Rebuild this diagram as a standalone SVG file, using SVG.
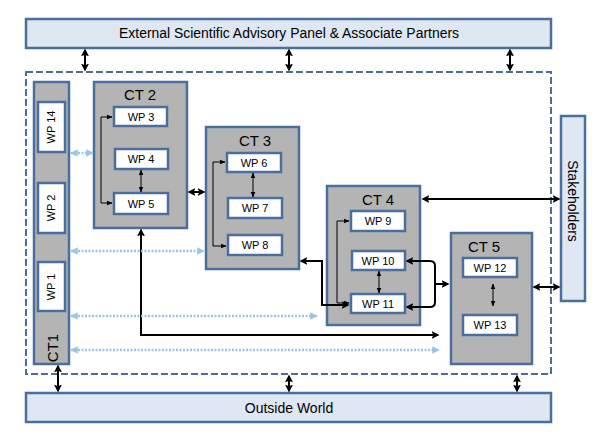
<svg xmlns="http://www.w3.org/2000/svg" width="592" height="442" viewBox="0 0 592 442">
<style>
.band{fill:#dee7f2;stroke:#4a6e9e;stroke-width:2.5}
.ct{fill:#b4b4b4;stroke:#4a6e9e;stroke-width:2.5}
.wp{fill:#ffffff;stroke:#4a6e9e;stroke-width:2.5}
.t{font-family:"Liberation Sans",Arial,sans-serif;fill:#000;text-anchor:middle}
.wpt{font-size:11px}
.ctt{font-size:15px}
.thick{fill:none;stroke:#000;stroke-width:2;marker-start:url(#ah);marker-end:url(#ah)}
.thin{fill:none;stroke:#000;stroke-width:1;marker-start:url(#as);marker-end:url(#as)}
.dot{fill:none;stroke:#9dc3e6;stroke-width:2.5;stroke-dasharray:2 1.5;marker-start:url(#ab);marker-end:url(#ab)}
</style>
<defs>
<marker id="ah" viewBox="0 0 10 10" refX="8" refY="5" markerWidth="4" markerHeight="4" orient="auto-start-reverse"><path d="M0,0 L10,5 L0,10 L2,5 z" fill="#000"/></marker>
<marker id="as" viewBox="0 0 10 10" refX="9" refY="5" markerWidth="6" markerHeight="6" orient="auto-start-reverse"><path d="M0,1 L10,5 L0,9 z" fill="#000"/></marker>
<marker id="ab" viewBox="0 0 10 10" refX="9" refY="5" markerWidth="3" markerHeight="3" orient="auto-start-reverse"><path d="M0,0 L10,5 L0,10 z" fill="#9dc3e6"/></marker>
</defs>
<rect x="0" y="0" width="592" height="442" fill="#fff"/>

<g id="external">
<rect class="band" x="26" y="19" width="525" height="29"/>
<text class="t" x="289" y="38" font-size="14" textLength="340" lengthAdjust="spacingAndGlyphs">External Scientific Advisory Panel &amp; Associate Partners</text>
</g>

<g id="frame">
<rect x="26" y="72" width="525" height="302" fill="none" stroke="#4a6e9e" stroke-width="2" stroke-dasharray="7 3"/>
</g>

<g id="outside">
<rect class="band" x="26" y="393" width="525" height="29"/>
<text class="t" x="289" y="413" font-size="14">Outside World</text>
</g>

<g id="stakeholders">
<rect class="band" x="561" y="116" width="24" height="185"/>
<text class="t" font-size="14" transform="translate(568,201) rotate(90)">Stakeholders</text>
</g>

<g id="ct1">
<rect class="ct" x="34" y="82" width="35" height="282"/>
<text class="t" font-size="15" transform="translate(58,348) rotate(-90)">CT1</text>
</g>
<g id="wp14">
<rect class="wp" x="38" y="102" width="27" height="50"/>
<text class="t wpt" transform="translate(55,127) rotate(-90)">WP 14</text>
</g>
<g id="wp2">
<rect class="wp" x="38" y="183" width="27" height="50"/>
<text class="t wpt" transform="translate(55,208) rotate(-90)">WP 2</text>
</g>
<g id="wp1">
<rect class="wp" x="38" y="262" width="27" height="49"/>
<text class="t wpt" transform="translate(55,287) rotate(-90)">WP 1</text>
</g>

<g id="ct2">
<rect class="ct" x="94" y="82" width="93" height="146"/>
<text class="t ctt" x="140" y="100">CT 2</text>
</g>
<g id="wp3">
<rect class="wp" x="114" y="107" width="53" height="19"/>
<text class="t wpt" x="141" y="121">WP 3</text>
</g>
<g id="wp4">
<rect class="wp" x="115" y="149" width="53" height="20"/>
<text class="t wpt" x="141" y="163">WP 4</text>
</g>
<g id="wp5">
<rect class="wp" x="114" y="193" width="54" height="21"/>
<text class="t wpt" x="141" y="208">WP 5</text>
</g>

<g id="ct3">
<rect class="ct" x="206" y="127" width="93" height="142"/>
<text class="t ctt" x="255" y="146">CT 3</text>
</g>
<g id="wp6">
<rect class="wp" x="227" y="153" width="54" height="19"/>
<text class="t wpt" x="254" y="167">WP 6</text>
</g>
<g id="wp7">
<rect class="wp" x="228" y="198" width="54" height="20"/>
<text class="t wpt" x="255" y="212">WP 7</text>
</g>
<g id="wp8">
<rect class="wp" x="228" y="235" width="54" height="20"/>
<text class="t wpt" x="255" y="249">WP 8</text>
</g>

<g id="ct4">
<rect class="ct" x="327" y="186" width="93" height="139"/>
<text class="t ctt" x="378" y="205">CT 4</text>
</g>
<g id="wp9">
<rect class="wp" x="351" y="211" width="54" height="20"/>
<text class="t wpt" x="378" y="225">WP 9</text>
</g>
<g id="wp10">
<rect class="wp" x="352" y="251" width="53" height="19"/>
<text class="t wpt" x="378" y="265">WP 10</text>
</g>
<g id="wp11">
<rect class="wp" x="351" y="294" width="54" height="19"/>
<text class="t wpt" x="378" y="308">WP 11</text>
</g>

<g id="ct5">
<rect class="ct" x="451" y="233" width="81" height="131"/>
<text class="t ctt" x="484" y="252">CT 5</text>
</g>
<g id="wp12">
<rect class="wp" x="463" y="258" width="54" height="19"/>
<text class="t wpt" x="490" y="272">WP 12</text>
</g>
<g id="wp13">
<rect class="wp" x="463" y="315" width="54" height="20"/>
<text class="t wpt" x="490" y="329">WP 13</text>
</g>

<g id="connectors">
<path class="thick" d="M85,50 V70"/>
<path class="thick" d="M289,50 V70"/>
<path class="thick" d="M510,50 V70"/>
<path class="thick" d="M58,366 V391"/>
<path class="thick" d="M289,376 V391"/>
<path class="thick" d="M517,376 V391"/>
<path class="thick" d="M189,192 H204"/>
<path class="thick" d="M301,261 H322 V305 H348"/>
<path class="thick" d="M407,261 H430 Q435,261 435,266 V302 Q435,307 430,307 H407"/>
<path d="M435,284 H448" fill="none" stroke="#000" stroke-width="2" marker-end="url(#ah)"/>
<path class="thick" d="M423,199 H559"/>
<path class="thick" d="M534,287 H559"/>
<path class="thick" d="M141,230 V335 H438"/>
<path class="thin" d="M112,117 H101 V203 H112"/>
<path class="thin" d="M141,170 V192"/>
<path class="thin" d="M225,162 H213 V246 H226"/>
<path class="thin" d="M253,173 V197"/>
<path class="thin" d="M349,221 H337 V303 H349"/>
<path class="thin" d="M379,271 V293"/>
<path class="thin" d="M493,284 V306"/>
<path class="dot" d="M71,153 H93"/>
<path class="dot" d="M71,251 H204"/>
<path class="dot" d="M71,316 H317"/>
<path class="dot" d="M71,350 H439"/>
</g>
</svg>
